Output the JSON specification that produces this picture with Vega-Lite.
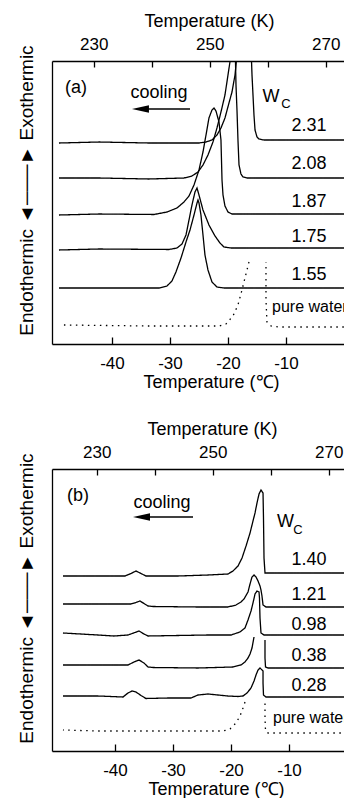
{
  "$schema": "https://vega.github.io/schema/vega-lite/v6.json",
  "background": "white",
  "padding": {"left": 16, "right": 0, "top": 12, "bottom": 0},
  "autosize": {"type": "pad"},
  "spacing": 29,
  "config": {
    "view": {"stroke": null},
    "font": "Liberation Sans",
    "axis": {
      "labelFont": "Liberation Sans", "titleFont": "Liberation Sans",
      "labelColor": "black", "titleColor": "black", "tickColor": "black", "domainColor": "black",
      "titleFontWeight": "normal", "grid": false, "domainWidth": 1.3, "tickWidth": 1.3,
      "labelFontSize": 17, "titleFontSize": 18, "labelFlush": false
    },
    "text": {"font": "Liberation Sans", "color": "black"}
  },
  "datasets": {
    "curvesA": [
      {"w":"2.31","i":1,"T":1,"y":204,"d":"solid"},{"w":"2.31","i":2,"T":-7.76,"y":204,"d":"solid"},{"w":"2.31","i":3,"T":-13.79,"y":204,"d":"solid"},{"w":"2.31","i":4,"T":-14.66,"y":205,"d":"solid"},{"w":"2.31","i":5,"T":-15.0,"y":207,"d":"solid"},{"w":"2.31","i":6,"T":-15.34,"y":214,"d":"solid"},{"w":"2.31","i":7,"T":-15.52,"y":229,"d":"solid"},{"w":"2.31","i":8,"T":-15.69,"y":249,"d":"solid"},{"w":"2.31","i":9,"T":-15.86,"y":269,"d":"solid"},{"w":"2.31","i":10,"T":-15.95,"y":284,"d":"solid"},{"w":"2.31","i":11,"T":-16.03,"y":299,"d":"solid"},{"w":"2.31","i":12,"T":-18.1,"y":299,"d":"solid"},{"w":"2.31","i":13,"T":-18.45,"y":289,"d":"solid"},{"w":"2.31","i":14,"T":-18.79,"y":269,"d":"solid"},{"w":"2.31","i":15,"T":-19.31,"y":252,"d":"solid"},{"w":"2.31","i":16,"T":-19.83,"y":241,"d":"solid"},{"w":"2.31","i":17,"T":-20.52,"y":226,"d":"solid"},{"w":"2.31","i":18,"T":-21.21,"y":216,"d":"solid"},{"w":"2.31","i":19,"T":-21.9,"y":209,"d":"solid"},{"w":"2.31","i":20,"T":-22.76,"y":204,"d":"solid"},{"w":"2.31","i":21,"T":-23.79,"y":202,"d":"solid"},{"w":"2.31","i":22,"T":-25.0,"y":201,"d":"solid"},{"w":"2.31","i":23,"T":-33.62,"y":201,"d":"solid"},{"w":"2.31","i":24,"T":-42.24,"y":202,"d":"solid"},{"w":"2.31","i":25,"T":-49.14,"y":201,"d":"solid"},
      {"w":"2.08","i":1,"T":1,"y":166,"d":"solid"},{"w":"2.08","i":2,"T":-7.76,"y":166,"d":"solid"},{"w":"2.08","i":3,"T":-16.72,"y":166,"d":"solid"},{"w":"2.08","i":4,"T":-17.41,"y":167,"d":"solid"},{"w":"2.08","i":5,"T":-17.76,"y":170,"d":"solid"},{"w":"2.08","i":6,"T":-18.1,"y":179,"d":"solid"},{"w":"2.08","i":7,"T":-18.28,"y":204,"d":"solid"},{"w":"2.08","i":8,"T":-18.45,"y":234,"d":"solid"},{"w":"2.08","i":9,"T":-18.62,"y":259,"d":"solid"},{"w":"2.08","i":10,"T":-18.71,"y":283,"d":"solid"},{"w":"2.08","i":11,"T":-18.79,"y":299,"d":"solid"},{"w":"2.08","i":12,"T":-19.31,"y":299,"d":"solid"},{"w":"2.08","i":13,"T":-19.48,"y":289,"d":"solid"},{"w":"2.08","i":14,"T":-20.0,"y":269,"d":"solid"},{"w":"2.08","i":15,"T":-20.52,"y":249,"d":"solid"},{"w":"2.08","i":16,"T":-21.21,"y":232,"d":"solid"},{"w":"2.08","i":17,"T":-21.9,"y":216,"d":"solid"},{"w":"2.08","i":18,"T":-22.59,"y":202,"d":"solid"},{"w":"2.08","i":19,"T":-23.45,"y":189,"d":"solid"},{"w":"2.08","i":20,"T":-24.31,"y":179,"d":"solid"},{"w":"2.08","i":21,"T":-25.17,"y":172,"d":"solid"},{"w":"2.08","i":22,"T":-26.21,"y":168,"d":"solid"},{"w":"2.08","i":23,"T":-27.59,"y":166,"d":"solid"},{"w":"2.08","i":24,"T":-33.62,"y":165,"d":"solid"},{"w":"2.08","i":25,"T":-42.24,"y":166,"d":"solid"},{"w":"2.08","i":26,"T":-49.14,"y":166,"d":"solid"},
      {"w":"1.87","i":1,"T":1,"y":130,"d":"solid"},{"w":"1.87","i":2,"T":-7.76,"y":130,"d":"solid"},{"w":"1.87","i":3,"T":-19.31,"y":130,"d":"solid"},{"w":"1.87","i":4,"T":-20.0,"y":132,"d":"solid"},{"w":"1.87","i":5,"T":-20.52,"y":138,"d":"solid"},{"w":"1.87","i":6,"T":-20.86,"y":149,"d":"solid"},{"w":"1.87","i":7,"T":-21.03,"y":164,"d":"solid"},{"w":"1.87","i":8,"T":-21.12,"y":184,"d":"solid"},{"w":"1.87","i":9,"T":-21.21,"y":204,"d":"solid"},{"w":"1.87","i":10,"T":-21.55,"y":222,"d":"solid"},{"w":"1.87","i":11,"T":-22.07,"y":233,"d":"solid"},{"w":"1.87","i":12,"T":-22.41,"y":236,"d":"solid"},{"w":"1.87","i":13,"T":-22.76,"y":234,"d":"solid"},{"w":"1.87","i":14,"T":-23.28,"y":226,"d":"solid"},{"w":"1.87","i":15,"T":-23.79,"y":209,"d":"solid"},{"w":"1.87","i":16,"T":-24.31,"y":192,"d":"solid"},{"w":"1.87","i":17,"T":-25.0,"y":174,"d":"solid"},{"w":"1.87","i":18,"T":-25.86,"y":159,"d":"solid"},{"w":"1.87","i":19,"T":-26.72,"y":148,"d":"solid"},{"w":"1.87","i":20,"T":-27.59,"y":142,"d":"solid"},{"w":"1.87","i":21,"T":-28.79,"y":136,"d":"solid"},{"w":"1.87","i":22,"T":-30.52,"y":132,"d":"solid"},{"w":"1.87","i":23,"T":-32.76,"y":129.5,"d":"solid"},{"w":"1.87","i":24,"T":-42.24,"y":130,"d":"solid"},{"w":"1.87","i":25,"T":-49.14,"y":129,"d":"solid"},
      {"w":"1.75","i":1,"T":1,"y":96,"d":"solid"},{"w":"1.75","i":2,"T":-7.76,"y":96,"d":"solid"},{"w":"1.75","i":3,"T":-19.48,"y":96,"d":"solid"},{"w":"1.75","i":4,"T":-20.69,"y":97,"d":"solid"},{"w":"1.75","i":5,"T":-21.38,"y":101,"d":"solid"},{"w":"1.75","i":6,"T":-22.24,"y":108,"d":"solid"},{"w":"1.75","i":7,"T":-23.28,"y":119,"d":"solid"},{"w":"1.75","i":8,"T":-24.31,"y":134,"d":"solid"},{"w":"1.75","i":9,"T":-25.0,"y":149,"d":"solid"},{"w":"1.75","i":10,"T":-25.34,"y":156,"d":"solid"},{"w":"1.75","i":11,"T":-25.69,"y":152,"d":"solid"},{"w":"1.75","i":12,"T":-26.21,"y":139,"d":"solid"},{"w":"1.75","i":13,"T":-26.72,"y":124,"d":"solid"},{"w":"1.75","i":14,"T":-27.24,"y":109,"d":"solid"},{"w":"1.75","i":15,"T":-27.93,"y":100,"d":"solid"},{"w":"1.75","i":16,"T":-28.79,"y":96,"d":"solid"},{"w":"1.75","i":17,"T":-30.17,"y":94.5,"d":"solid"},{"w":"1.75","i":18,"T":-42.24,"y":95,"d":"solid"},{"w":"1.75","i":19,"T":-49.14,"y":94,"d":"solid"},
      {"w":"1.55","i":1,"T":1,"y":56,"d":"solid"},{"w":"1.55","i":2,"T":-7.76,"y":56,"d":"solid"},{"w":"1.55","i":3,"T":-20.69,"y":56,"d":"solid"},{"w":"1.55","i":4,"T":-21.9,"y":57,"d":"solid"},{"w":"1.55","i":5,"T":-22.76,"y":62,"d":"solid"},{"w":"1.55","i":6,"T":-23.45,"y":74,"d":"solid"},{"w":"1.55","i":7,"T":-23.97,"y":89,"d":"solid"},{"w":"1.55","i":8,"T":-24.31,"y":109,"d":"solid"},{"w":"1.55","i":9,"T":-24.66,"y":129,"d":"solid"},{"w":"1.55","i":10,"T":-25.0,"y":141,"d":"solid"},{"w":"1.55","i":11,"T":-25.17,"y":144,"d":"solid"},{"w":"1.55","i":12,"T":-25.34,"y":141,"d":"solid"},{"w":"1.55","i":13,"T":-25.86,"y":129,"d":"solid"},{"w":"1.55","i":14,"T":-26.55,"y":114,"d":"solid"},{"w":"1.55","i":15,"T":-27.24,"y":102,"d":"solid"},{"w":"1.55","i":16,"T":-28.1,"y":86,"d":"solid"},{"w":"1.55","i":17,"T":-28.97,"y":72,"d":"solid"},{"w":"1.55","i":18,"T":-29.66,"y":63,"d":"solid"},{"w":"1.55","i":19,"T":-30.52,"y":58,"d":"solid"},{"w":"1.55","i":20,"T":-31.9,"y":56,"d":"solid"},{"w":"1.55","i":21,"T":-42.24,"y":56,"d":"solid"},{"w":"1.55","i":22,"T":-49.14,"y":56,"d":"solid"},
      {"w":"water R","i":1,"T":1,"y":17,"d":"dotted"},{"w":"water R","i":2,"T":-11.21,"y":17,"d":"dotted"},{"w":"water R","i":3,"T":-12.59,"y":18,"d":"dotted"},{"w":"water R","i":4,"T":-13.28,"y":22,"d":"dotted"},{"w":"water R","i":5,"T":-13.45,"y":44,"d":"dotted"},{"w":"water R","i":6,"T":-13.45,"y":82,"d":"dotted"},
      {"w":"water L","i":1,"T":-16.38,"y":82,"d":"dotted"},{"w":"water L","i":2,"T":-17.07,"y":66,"d":"dotted"},{"w":"water L","i":3,"T":-17.59,"y":54,"d":"dotted"},{"w":"water L","i":4,"T":-18.28,"y":39,"d":"dotted"},{"w":"water L","i":5,"T":-19.14,"y":28,"d":"dotted"},{"w":"water L","i":6,"T":-20.34,"y":20,"d":"dotted"},{"w":"water L","i":7,"T":-21.55,"y":18,"d":"dotted"},{"w":"water L","i":8,"T":-33.62,"y":18,"d":"dotted"},{"w":"water L","i":9,"T":-48.28,"y":19,"d":"dotted"}
    ],
    "curvesB": [
      {"w":"1.40","i":1,"T":1,"y":178,"d":"solid"},{"w":"1.40","i":2,"T":-8.45,"y":178,"d":"solid"},{"w":"1.40","i":3,"T":-13.62,"y":178,"d":"solid"},{"w":"1.40","i":4,"T":-14.14,"y":178,"d":"solid"},{"w":"1.40","i":5,"T":-14.31,"y":193,"d":"solid"},{"w":"1.40","i":6,"T":-14.4,"y":233,"d":"solid"},{"w":"1.40","i":7,"T":-14.48,"y":258,"d":"solid"},{"w":"1.40","i":8,"T":-14.83,"y":261,"d":"solid"},{"w":"1.40","i":9,"T":-15.17,"y":257,"d":"solid"},{"w":"1.40","i":10,"T":-15.52,"y":248,"d":"solid"},{"w":"1.40","i":11,"T":-15.86,"y":238,"d":"solid"},{"w":"1.40","i":12,"T":-16.21,"y":230,"d":"solid"},{"w":"1.40","i":13,"T":-16.72,"y":218,"d":"solid"},{"w":"1.40","i":14,"T":-17.41,"y":205,"d":"solid"},{"w":"1.40","i":15,"T":-18.1,"y":193,"d":"solid"},{"w":"1.40","i":16,"T":-18.79,"y":185,"d":"solid"},{"w":"1.40","i":17,"T":-19.66,"y":180,"d":"solid"},{"w":"1.40","i":18,"T":-20.52,"y":177,"d":"solid"},{"w":"1.40","i":19,"T":-23.97,"y":176,"d":"solid"},{"w":"1.40","i":20,"T":-29.14,"y":175,"d":"solid"},{"w":"1.40","i":21,"T":-34.66,"y":175,"d":"solid"},{"w":"1.40","i":22,"T":-35.52,"y":177.5,"d":"solid"},{"w":"1.40","i":23,"T":-36.38,"y":180,"d":"solid"},{"w":"1.40","i":24,"T":-37.24,"y":177.5,"d":"solid"},{"w":"1.40","i":25,"T":-38.28,"y":175,"d":"solid"},{"w":"1.40","i":26,"T":-42.93,"y":175,"d":"solid"},{"w":"1.40","i":27,"T":-48.97,"y":175,"d":"solid"},
      {"w":"1.21","i":1,"T":1,"y":144,"d":"solid"},{"w":"1.21","i":2,"T":-8.45,"y":144,"d":"solid"},{"w":"1.21","i":3,"T":-13.97,"y":144,"d":"solid"},{"w":"1.21","i":4,"T":-14.48,"y":146,"d":"solid"},{"w":"1.21","i":5,"T":-14.66,"y":155,"d":"solid"},{"w":"1.21","i":6,"T":-14.83,"y":161,"d":"solid"},{"w":"1.21","i":7,"T":-15.0,"y":165,"d":"solid"},{"w":"1.21","i":8,"T":-15.34,"y":170,"d":"solid"},{"w":"1.21","i":9,"T":-15.69,"y":174,"d":"solid"},{"w":"1.21","i":10,"T":-16.03,"y":176,"d":"solid"},{"w":"1.21","i":11,"T":-16.38,"y":174,"d":"solid"},{"w":"1.21","i":12,"T":-16.72,"y":167,"d":"solid"},{"w":"1.21","i":13,"T":-17.07,"y":159,"d":"solid"},{"w":"1.21","i":14,"T":-17.76,"y":152,"d":"solid"},{"w":"1.21","i":15,"T":-18.28,"y":149,"d":"solid"},{"w":"1.21","i":16,"T":-19.14,"y":146,"d":"solid"},{"w":"1.21","i":17,"T":-20.52,"y":144,"d":"solid"},{"w":"1.21","i":18,"T":-25.69,"y":144,"d":"solid"},{"w":"1.21","i":19,"T":-33.45,"y":144.5,"d":"solid"},{"w":"1.21","i":20,"T":-34.31,"y":145,"d":"solid"},{"w":"1.21","i":21,"T":-35.0,"y":147.5,"d":"solid"},{"w":"1.21","i":22,"T":-35.69,"y":150,"d":"solid"},{"w":"1.21","i":23,"T":-36.38,"y":148.5,"d":"solid"},{"w":"1.21","i":24,"T":-37.24,"y":147,"d":"solid"},{"w":"1.21","i":25,"T":-42.93,"y":147,"d":"solid"},{"w":"1.21","i":26,"T":-48.97,"y":147,"d":"solid"},
      {"w":"0.98","i":1,"T":1,"y":116,"d":"solid"},{"w":"0.98","i":2,"T":-8.45,"y":116,"d":"solid"},{"w":"0.98","i":3,"T":-14.31,"y":116,"d":"solid"},{"w":"0.98","i":4,"T":-14.83,"y":118,"d":"solid"},{"w":"0.98","i":5,"T":-15.0,"y":133,"d":"solid"},{"w":"0.98","i":6,"T":-15.09,"y":153,"d":"solid"},{"w":"0.98","i":7,"T":-15.17,"y":159,"d":"solid"},{"w":"0.98","i":8,"T":-15.52,"y":160,"d":"solid"},{"w":"0.98","i":9,"T":-15.86,"y":157,"d":"solid"},{"w":"0.98","i":10,"T":-16.21,"y":148,"d":"solid"},{"w":"0.98","i":11,"T":-16.55,"y":140,"d":"solid"},{"w":"0.98","i":12,"T":-17.07,"y":131,"d":"solid"},{"w":"0.98","i":13,"T":-17.59,"y":123,"d":"solid"},{"w":"0.98","i":14,"T":-18.45,"y":119,"d":"solid"},{"w":"0.98","i":15,"T":-20.0,"y":116,"d":"solid"},{"w":"0.98","i":16,"T":-23.97,"y":116,"d":"solid"},{"w":"0.98","i":17,"T":-29.14,"y":115.5,"d":"solid"},{"w":"0.98","i":18,"T":-34.31,"y":115,"d":"solid"},{"w":"0.98","i":19,"T":-35.0,"y":117,"d":"solid"},{"w":"0.98","i":20,"T":-35.86,"y":120,"d":"solid"},{"w":"0.98","i":21,"T":-36.55,"y":118.5,"d":"solid"},{"w":"0.98","i":22,"T":-37.76,"y":116,"d":"solid"},{"w":"0.98","i":23,"T":-40.17,"y":115,"d":"solid"},{"w":"0.98","i":24,"T":-42.93,"y":116,"d":"solid"},{"w":"0.98","i":25,"T":-48.97,"y":118,"d":"solid"},
      {"w":"0.38 R","i":1,"T":1,"y":83,"d":"solid"},{"w":"0.38 R","i":2,"T":-8.45,"y":83,"d":"solid"},{"w":"0.38 R","i":3,"T":-13.62,"y":83,"d":"solid"},{"w":"0.38 R","i":4,"T":-14.05,"y":84,"d":"solid"},{"w":"0.38 R","i":5,"T":-14.14,"y":93,"d":"solid"},{"w":"0.38 R","i":6,"T":-14.14,"y":111,"d":"solid"},
      {"w":"0.38 L","i":1,"T":-16.03,"y":114,"d":"solid"},{"w":"0.38 L","i":2,"T":-16.38,"y":103,"d":"solid"},{"w":"0.38 L","i":3,"T":-16.72,"y":97,"d":"solid"},{"w":"0.38 L","i":4,"T":-17.07,"y":93,"d":"solid"},{"w":"0.38 L","i":5,"T":-17.59,"y":89,"d":"solid"},{"w":"0.38 L","i":6,"T":-18.28,"y":86,"d":"solid"},{"w":"0.38 L","i":7,"T":-19.66,"y":84,"d":"solid"},{"w":"0.38 L","i":8,"T":-25.69,"y":83,"d":"solid"},{"w":"0.38 L","i":9,"T":-33.45,"y":83.5,"d":"solid"},{"w":"0.38 L","i":10,"T":-34.31,"y":84,"d":"solid"},{"w":"0.38 L","i":11,"T":-35.0,"y":88,"d":"solid"},{"w":"0.38 L","i":12,"T":-35.86,"y":91,"d":"solid"},{"w":"0.38 L","i":13,"T":-36.72,"y":89,"d":"solid"},{"w":"0.38 L","i":14,"T":-37.76,"y":86,"d":"solid"},{"w":"0.38 L","i":15,"T":-42.93,"y":86,"d":"solid"},{"w":"0.38 L","i":16,"T":-48.97,"y":86,"d":"solid"},
      {"w":"0.28","i":1,"T":1,"y":54,"d":"solid"},{"w":"0.28","i":2,"T":-8.45,"y":54,"d":"solid"},{"w":"0.28","i":3,"T":-13.97,"y":54,"d":"solid"},{"w":"0.28","i":4,"T":-14.4,"y":56,"d":"solid"},{"w":"0.28","i":5,"T":-14.48,"y":68,"d":"solid"},{"w":"0.28","i":6,"T":-14.48,"y":80,"d":"solid"},{"w":"0.28","i":7,"T":-15.0,"y":83,"d":"solid"},{"w":"0.28","i":8,"T":-15.34,"y":81,"d":"solid"},{"w":"0.28","i":9,"T":-15.69,"y":76,"d":"solid"},{"w":"0.28","i":10,"T":-16.03,"y":70,"d":"solid"},{"w":"0.28","i":11,"T":-16.55,"y":63,"d":"solid"},{"w":"0.28","i":12,"T":-17.24,"y":58,"d":"solid"},{"w":"0.28","i":13,"T":-17.93,"y":55,"d":"solid"},{"w":"0.28","i":14,"T":-18.79,"y":54.5,"d":"solid"},{"w":"0.28","i":15,"T":-20.52,"y":55,"d":"solid"},{"w":"0.28","i":16,"T":-22.24,"y":56,"d":"solid"},{"w":"0.28","i":17,"T":-23.97,"y":57,"d":"solid"},{"w":"0.28","i":18,"T":-25.69,"y":56,"d":"solid"},{"w":"0.28","i":19,"T":-26.9,"y":53,"d":"solid"},{"w":"0.28","i":20,"T":-30.86,"y":53,"d":"solid"},{"w":"0.28","i":21,"T":-34.66,"y":52.5,"d":"solid"},{"w":"0.28","i":22,"T":-35.52,"y":55.5,"d":"solid"},{"w":"0.28","i":23,"T":-36.38,"y":59,"d":"solid"},{"w":"0.28","i":24,"T":-37.07,"y":60,"d":"solid"},{"w":"0.28","i":25,"T":-37.76,"y":58,"d":"solid"},{"w":"0.28","i":26,"T":-38.62,"y":54,"d":"solid"},{"w":"0.28","i":27,"T":-42.93,"y":55,"d":"solid"},{"w":"0.28","i":28,"T":-48.97,"y":55,"d":"solid"},
      {"w":"water R","i":1,"T":1,"y":18,"d":"dotted"},{"w":"water R","i":2,"T":-8.45,"y":18,"d":"dotted"},{"w":"water R","i":3,"T":-13.62,"y":18,"d":"dotted"},{"w":"water R","i":4,"T":-14.05,"y":20,"d":"dotted"},{"w":"water R","i":5,"T":-14.14,"y":33,"d":"dotted"},{"w":"water R","i":6,"T":-14.14,"y":48,"d":"dotted"},
      {"w":"water L","i":1,"T":-17.59,"y":49,"d":"dotted"},{"w":"water L","i":2,"T":-17.93,"y":43,"d":"dotted"},{"w":"water L","i":3,"T":-18.45,"y":35,"d":"dotted"},{"w":"water L","i":4,"T":-19.14,"y":28,"d":"dotted"},{"w":"water L","i":5,"T":-20.17,"y":22,"d":"dotted"},{"w":"water L","i":6,"T":-21.38,"y":20,"d":"dotted"},{"w":"water L","i":7,"T":-25.69,"y":20,"d":"dotted"},{"w":"water L","i":8,"T":-42.93,"y":20,"d":"dotted"},{"w":"water L","i":9,"T":-48.97,"y":21,"d":"dotted"}
    ],
    "labelsA": [
      {"kind":"main","text":"(a)","T":-46.21,"y":256},
      {"kind":"main","text":"cooling","T":-31.9,"y":251},
      {"kind":"main","text":"W","T":-12.59,"y":247},
      {"kind":"sub","text":"C","T":-10.0,"y":240},
      {"kind":"main","text":"2.31","T":-6.03,"y":218},
      {"kind":"main","text":"2.08","T":-6.03,"y":180},
      {"kind":"main","text":"1.87","T":-6.03,"y":142},
      {"kind":"main","text":"1.75","T":-6.03,"y":107},
      {"kind":"main","text":"1.55","T":-6.03,"y":69},
      {"kind":"pw","text":"pure water","T":-12.41,"y":37}
    ],
    "labelsB": [
      {"kind":"main","text":"(b)","T":-46.38,"y":255},
      {"kind":"main","text":"cooling","T":-31.9,"y":248},
      {"kind":"main","text":"W","T":-10.6,"y":229.5},
      {"kind":"sub","text":"C","T":-8.45,"y":221},
      {"kind":"main","text":"1.40","T":-6.55,"y":191},
      {"kind":"main","text":"1.21","T":-6.55,"y":156},
      {"kind":"main","text":"0.98","T":-6.55,"y":126},
      {"kind":"main","text":"0.38","T":-6.55,"y":95},
      {"kind":"main","text":"0.28","T":-6.55,"y":65},
      {"kind":"pw","text":"pure water","T":-12.76,"y":33}
    ],
    "arrowA": [{"T":-35.09,"T2":-26.55,"y":235}],
    "arrowB": [{"T":-35.43,"T2":-26.55,"y":234}]
  },
  "vconcat": [
    {
      "width": 292, "height": 283,
      "resolve": {"axis": {"x": "independent"}},
      "layer": [
        {
          "data": {"name": "curvesA"},
          "mark": {"type": "line", "clip": true, "color": "black", "strokeWidth": 1.3},
          "encoding": {
            "x": {"field": "T", "type": "quantitative", "scale": {"domain": [-50.34, 0], "nice": false, "zero": false},
                  "axis": {"orient": "bottom", "values": [-40, -30, -20, -10], "tickSize": -7, "labelPadding": 18, "title": "Temperature (℃)", "titlePadding": 2, "titleX": 159, "labelExpr": "replace(datum.label, '−', '-')"}},
            "y": {"field": "y", "type": "quantitative", "scale": {"domain": [0, 283], "nice": false, "zero": false},
                  "axis": {"title": "Endothermic   ◄───►  Exothermic", "titleFontSize": 19, "labels": false, "ticks": false, "domain": true, "grid": false, "titlePadding": 16, "titleY": 129}},
            "detail": {"field": "w"},
            "order": {"field": "i", "type": "quantitative"},
            "strokeDash": {"field": "d", "type": "nominal", "scale": {"domain": ["solid", "dotted"], "range": [[1, 0], [1.5, 4.5]]}, "legend": null}
          }
        },
        {
          "data": {"name": "labelsA"},
          "transform": [{"filter": "datum.kind == 'main'"}],
          "mark": {"type": "text", "fontSize": 18, "align": "center", "baseline": "middle", "clip": true},
          "encoding": {
            "x": {"field": "T", "type": "quantitative", "scale": {"domain": [-50.34, 0], "nice": false, "zero": false},
                  "axis": {"orient": "top", "values": [-43.15, -33.15, -23.15, -13.15, -3.15], "tickSize": -6, "labelPadding": 14, "title": "Temperature (K)", "titlePadding": 5, "titleX": 157,
                           "labelExpr": "round(datum.value + 273.15) % 20 == 10 ? '' + round(datum.value + 273.15) : ''"}},
            "y": {"field": "y", "type": "quantitative"},
            "text": {"field": "text"}
          }
        },
        {
          "data": {"name": "labelsA"},
          "transform": [{"filter": "datum.kind == 'sub'"}],
          "mark": {"type": "text", "fontSize": 13, "align": "center", "baseline": "middle", "clip": true},
          "encoding": {
            "x": {"field": "T", "type": "quantitative", "axis": null},
            "y": {"field": "y", "type": "quantitative"},
            "text": {"field": "text"}
          }
        },
        {
          "data": {"name": "labelsA"},
          "transform": [{"filter": "datum.kind == 'pw'"}],
          "mark": {"type": "text", "fontSize": 16, "align": "left", "baseline": "middle", "clip": true},
          "encoding": {
            "x": {"field": "T", "type": "quantitative", "axis": null},
            "y": {"field": "y", "type": "quantitative"},
            "text": {"field": "text"}
          }
        },
        {
          "data": {"name": "arrowA"},
          "mark": {"type": "rule", "color": "black", "strokeWidth": 1.3},
          "encoding": {
            "x": {"field": "T", "type": "quantitative", "axis": null},
            "x2": {"field": "T2"},
            "y": {"field": "y", "type": "quantitative"}
          }
        },
        {
          "data": {"name": "arrowA"},
          "mark": {"type": "point", "shape": "M -1 0 L 1 -0.45 L 1 0.45 Z", "filled": true, "color": "black", "opacity": 1, "size": 289},
          "encoding": {
            "x": {"field": "T", "type": "quantitative", "axis": null},
            "y": {"field": "y", "type": "quantitative"}
          }
        }
      ]
    },
    {
      "width": 292, "height": 282,
      "resolve": {"axis": {"x": "independent"}},
      "layer": [
        {
          "data": {"name": "curvesB"},
          "mark": {"type": "line", "clip": true, "color": "black", "strokeWidth": 1.3},
          "encoding": {
            "x": {"field": "T", "type": "quantitative", "scale": {"domain": [-50.86, -0.52], "nice": false, "zero": false},
                  "axis": {"orient": "bottom", "values": [-40, -30, -20, -10], "tickSize": -7, "labelPadding": 18, "title": "Temperature (℃)", "titlePadding": 2, "titleX": 164, "labelExpr": "replace(datum.label, '−', '-')"}},
            "y": {"field": "y", "type": "quantitative", "scale": {"domain": [0, 282], "nice": false, "zero": false},
                  "axis": {"title": "Endothermic   ◄───►  Exothermic", "titleFontSize": 19, "labels": false, "ticks": false, "domain": true, "grid": false, "titlePadding": 16, "titleY": 129}},
            "detail": {"field": "w"},
            "order": {"field": "i", "type": "quantitative"},
            "strokeDash": {"field": "d", "type": "nominal", "scale": {"domain": ["solid", "dotted"], "range": [[1, 0], [1.5, 4.5]]}, "legend": null}
          }
        },
        {
          "data": {"name": "labelsB"},
          "transform": [{"filter": "datum.kind == 'main'"}],
          "mark": {"type": "text", "fontSize": 18, "align": "center", "baseline": "middle", "clip": true},
          "encoding": {
            "x": {"field": "T", "type": "quantitative", "scale": {"domain": [-50.86, -0.52], "nice": false, "zero": false},
                  "axis": {"orient": "top", "values": [-43.15, -33.15, -23.15, -13.15, -3.15], "tickSize": -6, "labelPadding": 14, "title": "Temperature (K)", "titlePadding": 5, "titleX": 160,
                           "labelExpr": "round(datum.value + 273.15) % 20 == 10 ? '' + round(datum.value + 273.15) : ''"}},
            "y": {"field": "y", "type": "quantitative"},
            "text": {"field": "text"}
          }
        },
        {
          "data": {"name": "labelsB"},
          "transform": [{"filter": "datum.kind == 'sub'"}],
          "mark": {"type": "text", "fontSize": 13, "align": "center", "baseline": "middle", "clip": true},
          "encoding": {
            "x": {"field": "T", "type": "quantitative", "axis": null},
            "y": {"field": "y", "type": "quantitative"},
            "text": {"field": "text"}
          }
        },
        {
          "data": {"name": "labelsB"},
          "transform": [{"filter": "datum.kind == 'pw'"}],
          "mark": {"type": "text", "fontSize": 16, "align": "left", "baseline": "middle", "clip": true},
          "encoding": {
            "x": {"field": "T", "type": "quantitative", "axis": null},
            "y": {"field": "y", "type": "quantitative"},
            "text": {"field": "text"}
          }
        },
        {
          "data": {"name": "arrowB"},
          "mark": {"type": "rule", "color": "black", "strokeWidth": 1.3},
          "encoding": {
            "x": {"field": "T", "type": "quantitative", "axis": null},
            "x2": {"field": "T2"},
            "y": {"field": "y", "type": "quantitative"}
          }
        },
        {
          "data": {"name": "arrowB"},
          "mark": {"type": "point", "shape": "M -1 0 L 1 -0.45 L 1 0.45 Z", "filled": true, "color": "black", "opacity": 1, "size": 289},
          "encoding": {
            "x": {"field": "T", "type": "quantitative", "axis": null},
            "y": {"field": "y", "type": "quantitative"}
          }
        }
      ]
    }
  ]
}
